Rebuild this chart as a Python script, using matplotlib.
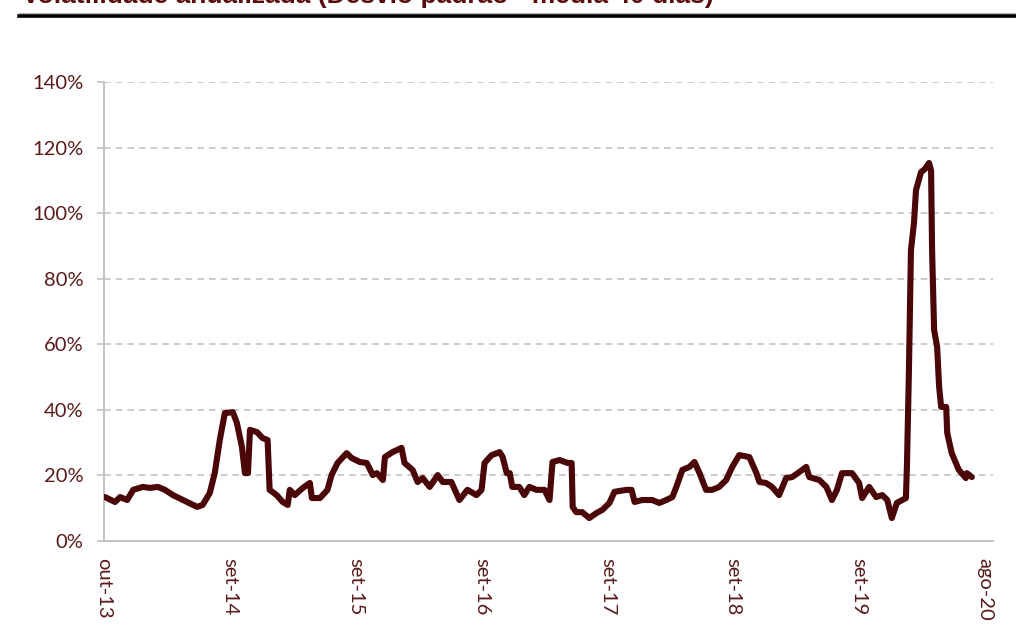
import matplotlib
matplotlib.use("Agg")
import matplotlib.pyplot as plt
from matplotlib.lines import Line2D
from matplotlib.ticker import FuncFormatter

# ================= DATA =================
# x = dia útil desde out-13, y = volatilidade anualizada (%)
dias = [2, 22, 32, 46, 58, 77, 91, 107, 121, 137, 157, 185, 196, 210, 220, 230,
        240, 256, 264, 274, 280, 286, 290, 304, 315, 325, 329, 343, 355, 365, 369,
        379, 395, 409, 413, 429, 444, 452, 464, 482, 492, 508, 522, 534, 542, 554,
        558, 573, 591, 597, 613, 623, 633, 647, 663, 673, 690, 706, 722, 740, 750,
        756, 770, 786, 792, 800, 806, 811, 825, 835, 845, 859, 875, 885, 891, 905,
        921, 929, 931, 938, 950, 964, 978, 990, 1004, 1014, 1038, 1048, 1054, 1069,
        1089, 1103, 1117, 1129, 1137, 1149, 1163, 1173, 1183, 1196, 1208, 1222,
        1236, 1248, 1262, 1282, 1296, 1302, 1315, 1327, 1341, 1355, 1367, 1381,
        1395, 1401, 1421, 1435, 1446, 1456, 1466, 1486, 1500, 1506, 1520, 1534,
        1546, 1556, 1565, 1575, 1593, 1595, 1599, 1603, 1609, 1613, 1623, 1631,
        1639, 1643, 1645, 1649, 1655, 1659, 1663, 1673, 1675, 1684, 1698, 1712,
        1714, 1724]
vol = [13.4, 11.9, 13.4, 12.5, 15.6, 16.5, 16.2, 16.5, 15.6, 14.0, 12.5, 10.4,
       11.0, 14.6, 20.7, 30.8, 39.0, 39.3, 36.0, 28.7, 20.7, 20.7, 33.9, 33.2,
       31.4, 30.8, 15.6, 14.0, 11.9, 11.0, 15.6, 14.0, 16.2, 17.7, 13.1, 13.1,
       15.6, 20.1, 23.8, 26.8, 25.3, 24.1, 23.8, 20.1, 20.7, 18.6, 25.6, 27.1,
       28.4, 23.8, 21.7, 18.0, 19.2, 16.5, 20.1, 18.0, 18.0, 12.5, 15.6, 14.0,
       15.6, 23.8, 26.2, 27.1, 25.6, 20.7, 20.7, 16.5, 16.5, 14.0, 16.5, 15.6,
       15.6, 12.5, 24.1, 24.7, 23.8, 23.8, 10.4, 8.8, 8.8, 7.0, 8.5, 9.5, 11.6,
       15.0, 15.6, 15.6, 11.9, 12.5, 12.5, 11.6, 12.5, 13.4, 16.5, 21.7, 22.6,
       24.1, 20.7, 15.6, 15.6, 16.5, 18.6, 22.6, 26.2, 25.6, 20.7, 18.0, 17.7,
       16.5, 14.0, 19.2, 19.5, 21.0, 22.6, 19.5, 18.6, 16.5, 12.5, 15.6, 20.7,
       20.7, 17.7, 13.1, 16.5, 13.4, 14.0, 12.5, 7.0, 11.6, 13.1, 22.6, 52.0,
       88.7, 97.0, 107.0, 112.5, 113.5, 115.3, 113.0, 88.7, 64.4, 59.2, 47.0,
       40.9, 40.9, 33.0, 26.8, 21.7, 19.2, 20.7, 19.5]

rotulos = ["out-13", "set-14", "set-15", "set-16", "set-17", "set-18", "set-19", "ago-20"]
pos_rotulos = [0, 250, 500, 750, 1000, 1250, 1500, 1750]

titulo = "Volatilidade anualizada (Desvio padrão - média 40 dias)"

# ================= STYLE =================
plt.rcParams["font.family"] = ["Lato", "DejaVu Sans"]
COR_LINHA = "#4b0608"
COR_TEXTO = "#5a1a1a"
COR_GRADE = "#c4c4c4"

fig = plt.figure(figsize=(10.16, 6.39), dpi=100)
ax = fig.add_axes([104 / 1016, 1 - 541 / 639, (993 - 104) / 1016, (541 - 82) / 639])

ax.plot(dias, vol, color=COR_LINHA, linewidth=4.4, solid_joinstyle="round",
        solid_capstyle="round", zorder=3)

ax.set_xlim(0, 1766)
ax.set_ylim(0, 140)
ax.set_yticks(range(0, 141, 20))
ax.yaxis.set_major_formatter(FuncFormatter(lambda v, p: f"{int(v)}%"))
ax.set_xticks(pos_rotulos)
ax.set_xticklabels(rotulos, rotation=-90, va="top", ha="center")

ax.grid(axis="y", color=COR_GRADE, linestyle=(0, (4, 3)), linewidth=1.2, zorder=0)
for s in ["top", "right"]:
    ax.spines[s].set_visible(False)
for s in ["left", "bottom"]:
    ax.spines[s].set_color("#bfbfbf")
    ax.spines[s].set_linewidth(1.3)

ax.tick_params(axis="y", colors=COR_GRADE, labelcolor=COR_TEXTO, labelsize=14.5,
               length=5, width=1.2, pad=10)
ax.tick_params(axis="x", labelcolor=COR_TEXTO, labelsize=14.5, length=0, pad=12)

# ================= TITLE (cropped at top, as in the source) =================
fig.text(22 / 1016, 1 - 3 / 639, titulo, fontsize=19, fontweight="bold",
         color="#5a0a0a", va="baseline", ha="left", family=["Liberation Sans", "DejaVu Sans"])
fig.add_artist(Line2D([19 / 1016, 1], [1 - 13 / 639] * 2, color="#b0b0b0", linewidth=0.8))
fig.add_artist(Line2D([19 / 1016, 1], [1 - 15.5 / 639] * 2, color="black", linewidth=2.6))

fig.savefig("out.png", dpi=100)
